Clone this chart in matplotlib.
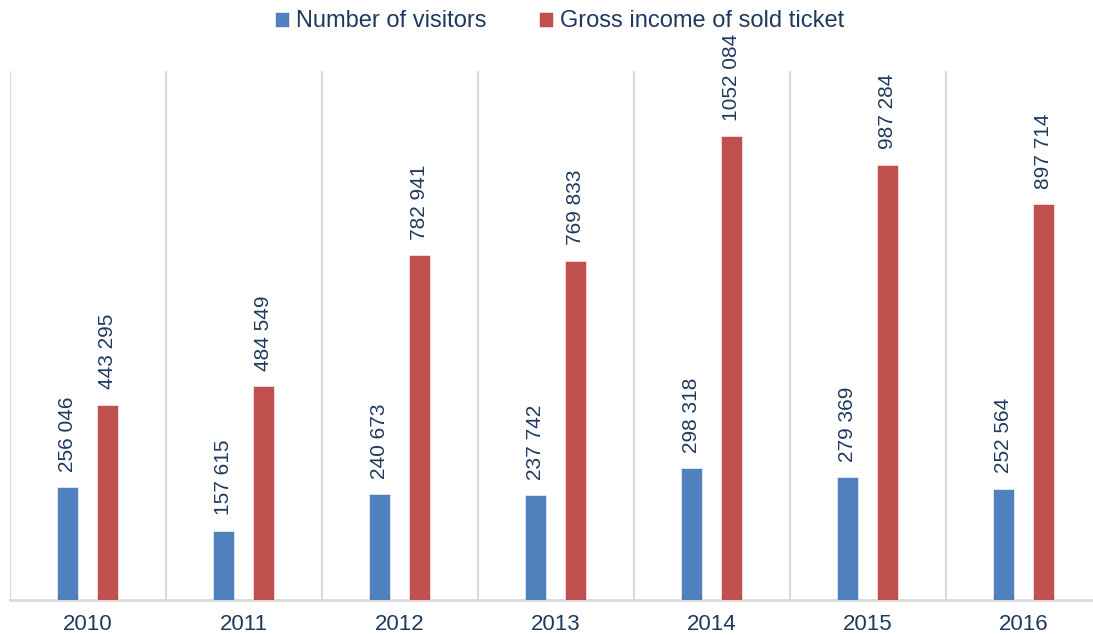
import matplotlib.pyplot as plt
import numpy as np

years = ["2010", "2011", "2012", "2013", "2014", "2015", "2016"]
visitors = [256046, 157615, 240673, 237742, 298318, 279369, 252564]
income = [443295, 484549, 782941, 769833, 1052084, 987284, 897714]

blue = "#4F81BD"
red = "#C0504D"
navy = "#1F3A5F"
grid = "#D9D9D9"

plt.rcParams["font.family"] = ["Liberation Sans", "DejaVu Sans"]


def fmt(v):
    if v >= 1000:
        return "{0} {1:03d}".format(v // 1000, v % 1000)
    return str(v)


fig = plt.figure(figsize=(10.93, 6.36), dpi=100)
ax = fig.add_axes([9.5 / 1093, 36 / 636, 7 * 156 / 1093, 529 / 636])

x = np.arange(len(years))
w = 0.135
off = 0.128
b1 = ax.bar(x - off, visitors, w, color=blue, edgecolor="white", linewidth=0.4,
            label="Number of visitors", zorder=3)
b2 = ax.bar(x + off, income, w, color=red, edgecolor="white", linewidth=0.4,
            label="Gross income of sold ticket", zorder=3)

for bars, vals in ((b1, visitors), (b2, income)):
    for rect, v in zip(bars, vals):
        ax.annotate(fmt(v), (rect.get_x() + rect.get_width() / 2, rect.get_height()),
                    xytext=(0, 11), textcoords="offset points", rotation=90,
                    ha="center", va="bottom", fontsize=15, color=navy)

for b in np.arange(-0.5, len(years), 1.0):
    ax.axvline(b, color=grid, linewidth=1.5, zorder=1)

ax.set_xlim(-0.5, len(years) - 0.5)
ax.set_ylim(0, 1200000)
ax.set_xticks(x)
ax.set_xticklabels(years, fontsize=16, color=navy)
ax.tick_params(axis="x", length=0, pad=10)
ax.set_yticks([])
for s in ("top", "right", "left"):
    ax.spines[s].set_visible(False)
ax.spines["bottom"].set_color(grid)
ax.spines["bottom"].set_linewidth(2)

leg = fig.legend(loc="upper center", bbox_to_anchor=(0.512, 1.017), ncol=2, frameon=False,
                 fontsize=17, handlelength=0.6, handleheight=0.6, handletextpad=0.3,
                 columnspacing=2.2)
for t in leg.get_texts():
    t.set_color(navy)

fig.savefig("out.png", dpi=100)
